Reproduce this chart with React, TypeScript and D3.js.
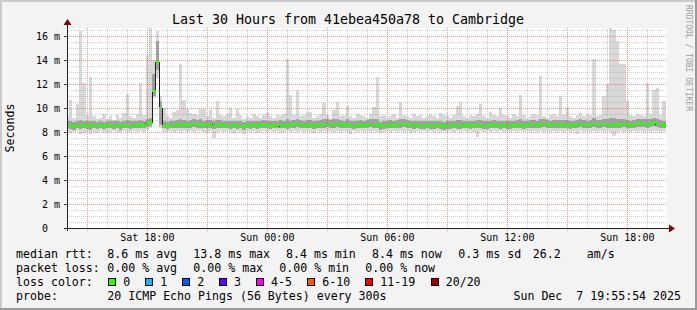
import React from 'react';
import * as d3 from 'd3';

const TITLE = 'Last 30 Hours from 41ebea450a78 to Cambridge';
const Y_LABEL = 'Seconds';
const WATERMARK = 'RRDTOOL / TOBI OETIKER';
const STEP_MIN = 10;
const FIRST_SAMPLE = Date.UTC(2025, 11, 6, 13, 55);
const X_START = Date.UTC(2025, 11, 6, 13, 59);
const X_END = Date.UTC(2025, 11, 7, 19, 59);
const Y_MAX = 16.667;

const MED = [
  8.5,8.5,8.45,8.5,8.5,8.55,8.5,8.45,8.5,8.5,
  8.5,8.45,8.5,8.55,8.5,8.5,8.45,8.5,8.55,8.5,
  8.5,8.55,8.6,8.55,8.75,8.8,11.4,13.8,10.0,8.5,
  8.45,8.5,8.5,8.55,8.6,8.6,8.55,8.6,8.65,8.6,
  8.6,8.55,8.6,8.6,8.5,8.55,8.6,8.55,8.5,8.5,
  8.55,8.5,8.5,8.45,8.5,8.5,8.55,8.5,8.55,8.6,
  8.55,8.5,8.55,8.5,8.6,8.55,8.5,8.55,8.6,8.65,
  8.6,8.55,8.6,8.55,8.5,8.55,8.6,8.6,8.65,8.6,
  8.6,8.65,8.6,8.55,8.6,8.55,8.5,8.55,8.6,8.55,
  8.6,8.65,8.6,8.55,8.45,8.5,8.55,8.6,8.55,8.6,
  8.6,8.65,8.6,8.55,8.5,8.55,8.5,8.5,8.55,8.5,
  8.5,8.55,8.5,8.45,8.5,8.5,8.55,8.5,8.5,8.55,
  8.55,8.5,8.55,8.6,8.55,8.5,8.5,8.55,8.6,8.55,
  8.5,8.55,8.5,8.5,8.55,8.6,8.55,8.5,8.55,8.6,
  8.6,8.55,8.6,8.65,8.6,8.55,8.6,8.6,8.55,8.6,
  8.55,8.5,8.55,8.6,8.65,8.6,8.55,8.6,8.65,8.6,
  8.6,8.65,8.6,8.55,8.6,8.55,8.6,8.65,8.6,8.55,
  8.6,8.65,8.7,8.65,8.6,8.7,8.75,8.65,8.6,8.55,
];

const MAXV = [
  9.3,10.7,9.2,10.3,16.4,12.1,9.4,12.6,9.3,9.1,
  9.2,9.5,9.1,9.3,9.0,9.4,9.2,9.6,11.2,9.3,
  9.2,9.5,12.1,9.4,14.4,16.7,14.0,16.4,11.0,10.0,
  9.3,9.2,9.7,9.8,13.7,10.7,9.9,9.6,9.5,9.4,
  9.9,9.9,9.3,9.8,9.2,10.6,9.4,9.3,9.5,10.0,
  9.2,9.9,9.4,9.1,9.3,9.2,9.5,9.3,9.2,9.4,
  9.6,9.3,9.2,9.4,9.3,9.5,14.1,11.1,9.4,11.5,
  9.3,9.4,9.7,9.7,9.2,9.3,9.5,10.4,9.4,9.2,
  9.8,10.5,9.3,9.4,10.2,9.3,9.2,9.5,9.4,9.3,
  9.2,9.5,10.1,12.6,9.3,9.4,9.2,9.3,9.5,9.2,
  10.5,9.4,9.3,9.2,9.5,9.3,9.4,9.2,9.3,9.5,
  9.3,9.2,9.6,9.4,9.3,9.2,9.4,10.2,10.5,9.3,
  9.2,9.4,9.3,9.5,10.3,9.3,9.2,9.7,9.4,9.3,
  10.0,9.4,9.3,9.2,9.5,9.3,11.1,9.4,9.2,9.3,
  9.5,9.4,12.7,9.3,9.2,9.4,9.5,9.3,11.0,9.4,
  10.1,9.3,9.2,9.4,9.6,9.3,9.5,9.4,14.1,9.3,
  9.4,11.0,12.0,16.7,16.5,15.6,13.7,13.7,10.6,9.4,
  9.3,9.5,9.4,9.3,12.1,9.5,11.5,11.7,9.4,10.6,
];

const MINV = [
  8.0,7.9,8.0,8.1,7.8,7.9,8.0,7.8,8.0,7.9,
  8.1,8.0,7.9,8.0,8.1,8.0,7.9,8.1,8.0,8.0,
  8.1,8.0,8.1,8.0,8.2,8.3,10.8,12.5,8.3,8.0,
  8.0,8.1,8.0,8.1,8.0,8.1,8.0,8.1,8.0,8.1,
  8.1,8.0,7.9,8.1,7.5,8.0,8.1,8.0,8.1,8.0,
  7.9,8.1,8.0,7.8,8.1,8.0,8.1,7.9,8.0,8.1,
  8.0,8.1,8.0,8.1,7.9,8.0,8.1,8.0,8.1,8.0,
  8.1,8.0,8.1,8.0,7.9,8.1,8.0,8.1,8.0,8.1,
  8.0,8.1,8.0,8.1,8.0,7.8,8.1,8.0,8.1,8.0,
  8.1,8.0,8.1,8.0,7.9,8.0,8.1,8.0,8.1,8.0,
  8.1,8.0,8.1,7.9,8.0,8.1,8.0,8.1,8.0,8.1,
  8.0,8.1,8.0,8.1,8.0,8.1,8.0,8.1,8.0,8.1,
  8.0,8.1,8.0,7.6,8.1,8.0,8.1,8.0,8.1,8.0,
  8.1,8.0,8.1,8.0,8.1,8.0,8.1,8.0,8.1,8.0,
  8.1,8.0,8.1,8.0,8.1,8.0,8.1,8.0,8.1,8.0,
  8.1,8.0,8.1,7.8,8.1,8.0,8.1,8.0,8.1,8.0,
  8.1,8.0,8.1,8.0,7.7,8.0,8.1,8.0,8.1,8.0,
  8.1,8.0,8.1,8.0,8.1,8.0,8.1,8.1,8.0,8.1,
];

const Q1 = [
  8.3,8.25,8.2,8.3,8.25,8.3,8.25,8.2,8.3,8.25,
  8.3,8.25,8.3,8.3,8.25,8.3,8.2,8.3,8.3,8.25,
  8.3,8.3,8.35,8.3,8.45,8.5,11.0,13.2,8.6,8.3,
  8.25,8.3,8.3,8.3,8.35,8.35,8.3,8.35,8.4,8.35,
  8.35,8.3,8.35,8.35,8.25,8.3,8.35,8.3,8.3,8.25,
  8.3,8.25,8.3,8.2,8.3,8.25,8.3,8.25,8.3,8.35,
  8.3,8.25,8.3,8.3,8.35,8.3,8.25,8.3,8.35,8.4,
  8.35,8.3,8.35,8.3,8.25,8.3,8.35,8.35,8.4,8.35,
  8.35,8.4,8.35,8.3,8.35,8.3,8.25,8.3,8.35,8.3,
  8.35,8.4,8.35,8.3,8.2,8.25,8.3,8.35,8.3,8.35,
  8.35,8.4,8.35,8.3,8.25,8.3,8.25,8.25,8.3,8.25,
  8.25,8.3,8.25,8.2,8.25,8.25,8.3,8.25,8.25,8.3,
  8.3,8.25,8.3,8.35,8.3,8.25,8.25,8.3,8.35,8.3,
  8.25,8.3,8.25,8.25,8.3,8.35,8.3,8.25,8.3,8.35,
  8.35,8.3,8.35,8.4,8.35,8.3,8.35,8.35,8.3,8.35,
  8.3,8.25,8.3,8.35,8.4,8.35,8.3,8.35,8.4,8.35,
  8.35,8.4,8.35,8.3,8.35,8.3,8.35,8.4,8.35,8.3,
  8.35,8.4,8.45,8.4,8.35,8.45,8.5,8.4,8.35,8.3,
];

const Q3 = [
  8.9,8.95,8.85,8.9,9.0,8.95,8.9,8.95,8.9,8.85,
  8.9,8.85,8.9,8.95,8.9,8.9,8.85,8.95,9.0,8.9,
  8.9,8.95,9.0,8.95,9.1,9.2,12.8,15.6,10.6,8.9,
  8.85,8.9,8.95,9.0,9.1,9.0,8.95,9.0,9.05,9.0,
  9.05,8.95,9.0,9.0,8.9,9.0,9.0,8.95,8.9,8.95,
  8.95,8.9,8.9,8.85,8.9,8.9,8.95,8.9,8.95,9.0,
  8.95,8.9,8.95,8.9,9.0,8.95,9.1,8.95,9.0,9.1,
  9.0,8.95,9.0,9.0,8.9,8.95,9.0,9.05,9.05,9.0,
  9.05,9.1,9.0,8.95,9.05,8.95,8.9,8.95,9.0,8.95,
  9.0,9.05,9.05,9.1,8.85,8.9,8.95,9.0,8.95,9.0,
  9.05,9.05,9.0,8.95,8.9,8.95,8.9,8.9,8.95,8.9,
  8.9,8.95,8.9,8.85,8.9,8.9,8.95,9.0,9.0,8.95,
  8.95,8.9,8.95,9.0,9.0,8.9,8.9,8.95,9.0,8.95,
  8.95,8.95,8.9,8.9,8.95,9.0,9.05,8.9,8.95,9.0,
  9.0,8.95,9.1,9.05,9.0,8.95,9.0,9.0,9.0,9.0,
  9.0,8.9,8.95,9.0,9.05,9.0,8.95,9.0,9.15,9.0,
  9.0,9.1,9.1,9.2,9.2,9.1,9.1,9.1,9.0,8.95,
  9.0,9.05,9.1,9.05,9.1,9.1,9.15,9.1,9.0,8.95,
];

const Y_LABEL_TICKS = [0, 2, 4, 6, 8, 10, 12, 14, 16];

const LEGEND_RTT = [
  { text: 'median rtt:', x: 16 },
  { text: '8.6 ms avg', x: 107.3 },
  { text: '13.8 ms max', x: 193.3 },
  { text: '8.4 ms min', x: 286 },
  { text: '8.4 ms now', x: 372 },
  { text: '0.3 ms sd', x: 458.3 },
  { text: '26.2', x: 532.7 },
  { text: 'am/s', x: 586.7 },
];
const LEGEND_LOSS = [
  { text: 'packet loss:', x: 16 },
  { text: '0.00 % avg', x: 107.3 },
  { text: '0.00 % max', x: 193.3 },
  { text: '0.00 % min', x: 279.3 },
  { text: '0.00 % now', x: 365.3 },
];
const LOSS_LABELS = ['0', '1', '2', '3', '4-5', '6-10', '11-19', '20/20'];
const LOSS_COLORS = ['#26ff00', '#00b8ff', '#0059ff', '#5e00ff', '#ff00ff', '#ff5500', '#ff0000', '#a10000'];
const LOSS_BOX_X = [108.3, 145.3, 182.3, 219, 256, 307.3, 365.3, 430.7];
const PROBE_TEXT = '20 ICMP Echo Pings (56 Bytes) every 300s';
const DATE_TEXT = 'Sun Dec  7 19:55:54 2025';

const W = 697;
const H = 310;
const PL = 67, PR = 667, PT = 28, PB = 228;
const MONO = '"DejaVu Sans Mono", monospace';

export default function App() {
  const x = d3.scaleUtc().domain([new Date(X_START), new Date(X_END)]).range([PL, PR]);
  const y = d3.scaleLinear().domain([0, Y_MAX]).range([PB, PT]);

  const samples = MED.map((m, i) => {
    const t0 = new Date(FIRST_SAMPLE + i * STEP_MIN * 60000);
    const t1 = new Date(FIRST_SAMPLE + (i + 1) * STEP_MIN * 60000);
    return { t0, t1, med: m, min: MINV[i], max: MAXV[i], q1: Q1[i], q3: Q3[i] };
  });

  const majorX = x.ticks(d3.utcHour.every(3)!);
  const majorSet = new Set(majorX.map((d) => +d));
  const minorX = x.ticks(d3.utcHour.every(1)!).filter((d) => !majorSet.has(+d));
  const labelX = x.ticks(d3.utcHour.every(6)!);
  const fmt = d3.utcFormat('%a %H:%M');
  const minorY = d3.range(0.5, Y_MAX, 0.5).filter((v) => Math.abs(v % 2) > 1e-6);

  const linePts: [number, number][] = samples.map((s) => [x(s.t0), y(s.med)]);
  const last = samples[samples.length - 1];
  linePts.push([x(last.t1), y(last.med)]);
  const medLine = d3.line().curve(d3.curveStepAfter)(linePts) || '';

  const gridMinor = 'rgba(150,150,150,0.45)';
  const gridMajor = 'rgba(222,79,79,0.6)';

  return (
    <svg width={W} height={H} style={{ position: 'absolute', left: 0, top: 0, display: 'block' }}
      xmlns="http://www.w3.org/2000/svg" shapeRendering="crispEdges">
      <defs>
        <clipPath id="plotclip">
          <rect x={PL} y={PT} width={PR - PL} height={PB - PT} />
        </clipPath>
      </defs>
      <rect x={0} y={0} width={W} height={H} fill="#f3f3f3" />
      <rect x={0} y={0} width={W} height={2} fill="#cbcbcb" />
      <rect x={0} y={0} width={2} height={H} fill="#cbcbcb" />
      <rect x={0} y={H - 2} width={W} height={2} fill="#999999" />
      <rect x={W - 2} y={0} width={2} height={H} fill="#999999" />
      <rect x={PL} y={PT} width={PR - PL} height={PB - PT} fill="#ffffff" />

      <g clipPath="url(#plotclip)">
        {samples.map((s, i) => (
          <rect key={'s' + i} x={x(s.t0)} width={x(s.t1) - x(s.t0)} y={y(s.max)} height={y(s.min) - y(s.max)} fill="#d8d8d8" />
        ))}
        {samples.map((s, i) => (
          <rect key={'q' + i} x={x(s.t0)} width={x(s.t1) - x(s.t0)} y={y(s.q3)} height={y(s.q1) - y(s.q3)} fill="#a0a0a0" />
        ))}
      </g>

      {minorX.map((d, i) => (
        <line key={'mx' + i} x1={Math.round(x(d)) + 0.5} x2={Math.round(x(d)) + 0.5} y1={PB} y2={PT} stroke={gridMinor} strokeDasharray="1,1" />
      ))}
      {minorY.map((v, i) => (
        <line key={'my' + i} x1={PL} x2={PR} y1={Math.round(y(v)) + 0.5} y2={Math.round(y(v)) + 0.5} stroke={gridMinor} strokeDasharray="1,1" />
      ))}
      {majorX.map((d, i) => (
        <line key={'Mx' + i} x1={Math.round(x(d)) + 0.5} x2={Math.round(x(d)) + 0.5} y1={PB + 3} y2={PT} stroke={gridMajor} strokeDasharray="1,1" />
      ))}
      {Y_LABEL_TICKS.filter((v) => v > 0).map((v, i) => (
        <line key={'My' + i} x1={PL} x2={PR} y1={Math.round(y(v)) + 0.5} y2={Math.round(y(v)) + 0.5} stroke={gridMajor} strokeDasharray="1,1" />
      ))}
      {Y_LABEL_TICKS.map((v, i) => (
        <line key={'yt' + i} x1={PL - 3} x2={PL} y1={Math.round(y(v)) + 0.5} y2={Math.round(y(v)) + 0.5} stroke="#444" />
      ))}

      <g clipPath="url(#plotclip)">
        <path d={medLine} fill="none" stroke="#202020" strokeWidth={1} />
        {samples.map((s, i) => (
          <rect key={'g' + i} x={x(s.t0)} width={x(s.t1) - x(s.t0)} y={y(s.med) - 1.2} height={2.4} fill={LOSS_COLORS[0]} />
        ))}
      </g>

      <line x1={PL - 3} x2={PR + 3} y1={PB + 0.5} y2={PB + 0.5} stroke="#202020" />
      <line x1={PL + 0.5} x2={PL + 0.5} y1={PB + 3} y2={PT - 3} stroke="#202020" />
      <path d={`M${PR + 2},${PB - 3.5} L${PR + 8},${PB + 0.5} L${PR + 2},${PB + 4.5} Z`} fill="#7f0000" shapeRendering="auto" />
      <path d={`M${PL - 3.5},${PT - 3} L${PL + 0.5},${PT - 9} L${PL + 4.5},${PT - 3} Z`} fill="#7f0000" shapeRendering="auto" />

      <g fontFamily={MONO} fontSize={10} fill="#000">
        {Y_LABEL_TICKS.map((v, i) => (
          <text key={'yl' + i} x={60} y={y(v) + 3.5} textAnchor="end" xmlSpace="preserve">{v === 0 ? '0  ' : `${v} m`}</text>
        ))}
        {labelX.map((d, i) => (
          <text key={'xl' + i} x={x(d)} y={241} textAnchor="middle">{fmt(d)}</text>
        ))}
      </g>

      <text x={348} y={24} textAnchor="middle" fontFamily={MONO} fontSize={13.3} fill="#000">{TITLE}</text>
      <text transform="translate(14,128) rotate(-90)" textAnchor="middle" fontFamily={MONO} fontSize={11.6} fill="#000">{Y_LABEL}</text>
      <text transform="translate(686,5) rotate(90)" textAnchor="start" fontFamily={MONO} fontSize={8} fill="#a0a0a0">{WATERMARK}</text>

      <g fontFamily={MONO} fontSize={11.6} fill="#000">
        {LEGEND_RTT.map((l, i) => (
          <text key={'r' + i} x={l.x} y={258} xmlSpace="preserve">{l.text}</text>
        ))}
        {LEGEND_LOSS.map((l, i) => (
          <text key={'l' + i} x={l.x} y={272} xmlSpace="preserve">{l.text}</text>
        ))}
        <text x={16} y={286}>loss color:</text>
        {LOSS_LABELS.map((lab, i) => (
          <g key={'c' + i}>
            <rect x={LOSS_BOX_X[i] + 0.5} y={278.5} width={7} height={7} fill={LOSS_COLORS[i]} stroke="#000" />
            <text x={LOSS_BOX_X[i] + 15} y={286}>{lab}</text>
          </g>
        ))}
        <text x={16} y={300}>probe:</text>
        <text x={107.3} y={300}>{PROBE_TEXT}</text>
        <text x={681} y={300} textAnchor="end" xmlSpace="preserve">{DATE_TEXT}</text>
      </g>
    </svg>
  );
}
